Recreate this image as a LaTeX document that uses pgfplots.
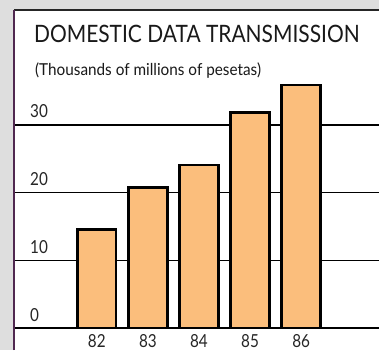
\documentclass[border=0pt]{standalone}
\usepackage{pgfplots}
\pgfplotsset{compat=1.18}
\usepackage{fontspec}
\setmainfont{Lato}
\definecolor{barfill}{RGB}{251,190,124}
\definecolor{bggray}{RGB}{222,222,222}
\definecolor{framepurple}{RGB}{80,40,80}
\newcommand{\tl}[1]{\scalebox{0.85}[1]{\fontsize{18}{18}\selectfont #1}}
\begin{document}
\begin{tikzpicture}
\begin{axis}[
  scale only axis,
  width=380pt, height=351pt,
  xmin=80.107, xmax=87.522,
  ymin=-3.24, ymax=48.45,
  axis on top,
  axis x line=bottom,
  axis y line=none,
  x axis line style={draw=none, -},
  xtick=data,
  xticklabels={\tl{82},\tl{83},\tl{84},\tl{85},\tl{86}},
  major tick length=0pt,
  xticklabel style={anchor=base, yshift=3pt, inner sep=0pt, text=black!85},
  clip=false,
  bar width=0.76,
]
% background
\fill[bggray] (axis cs:80.107,-3.24) rectangle (axis cs:87.522,48.45);
\fill[white] (axis cs:80.38,-3.24) rectangle (axis cs:87.522,46.98);
% grid lines
\draw[black, line width=1.5pt] (axis cs:80.38,10) -- (axis cs:87.522,10);
\draw[black, line width=1.5pt] (axis cs:80.38,20) -- (axis cs:87.522,20);
\draw[black, line width=1.5pt] (axis cs:80.38,30) -- (axis cs:87.522,30);
\draw[black, line width=2pt] (axis cs:80.38,0) -- (axis cs:87.522,0);
% frame
\draw[black!85, line width=2pt] (axis cs:80.38,46.98) -- (axis cs:87.522,46.98);
\draw[framepurple, line width=1.8pt] (axis cs:80.38,-3.24) -- (axis cs:80.38,46.98);
% bars
\addplot[ybar, fill=barfill, draw=black, line width=2.6pt] coordinates {
  (82,14.6) (83,20.8) (84,24.1) (85,31.8) (86,35.9)
};
% y labels
\node[anchor=base west, inner sep=0pt, text=black!85] at (axis cs:80.693,1.05) {\tl{0}};
\node[anchor=base west, inner sep=0pt, text=black!85] at (axis cs:80.693,11.05) {\tl{10}};
\node[anchor=base west, inner sep=0pt, text=black!85] at (axis cs:80.693,21.05) {\tl{20}};
\node[anchor=base west, inner sep=0pt, text=black!85] at (axis cs:80.693,31.05) {\tl{30}};
% title
\node[anchor=base west, inner sep=0pt, text=black!90] at (axis cs:80.77,42.12) {\scalebox{0.875}[1]{\fontsize{24}{24}\selectfont DOMESTIC DATA TRANSMISSION}};
\node[anchor=base west, inner sep=0pt, text=black!90] at (axis cs:80.79,37.26) {\scalebox{0.93}[1]{\fontsize{16.5}{16.5}\selectfont (Thousands of millions of pesetas)}};
\end{axis}
\end{tikzpicture}
\end{document}
